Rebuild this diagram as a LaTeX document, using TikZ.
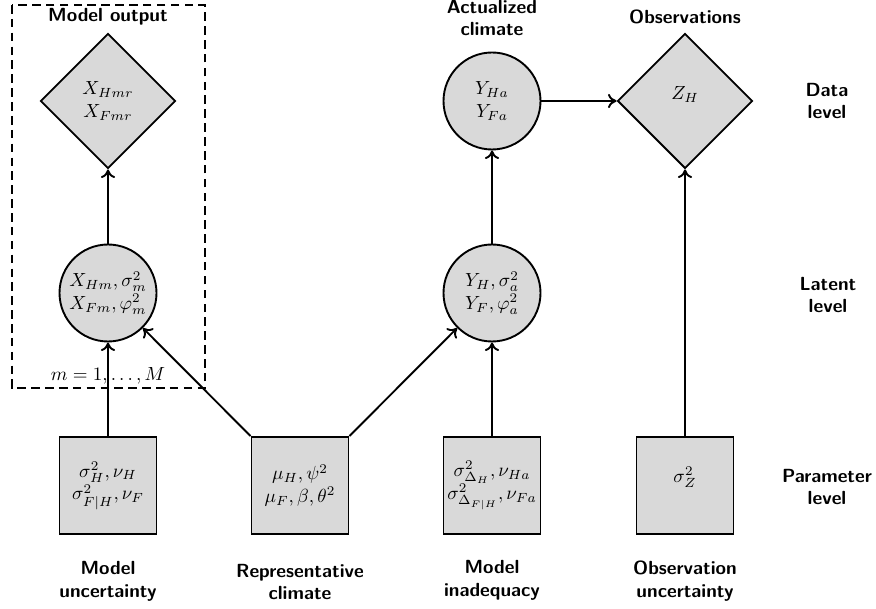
\documentclass[tikz,border=0pt]{standalone}
\usepackage{amsmath}
\usetikzlibrary{shapes.geometric,arrows.meta}
\def\pu{0.5263pt}
\tikzset{
  base/.style={draw=black, line width=1pt, fill=black!15, inner sep=0pt, align=center},
  circnode/.style={base, circle, minimum size={97*\pu}},
  sqnode/.style={base, rectangle, minimum size={97*\pu}},
  dianode/.style={base, diamond, minimum width={135*\pu}, minimum height={135*\pu}},
  lbl/.style={font=\sffamily\bfseries, align=center, inner sep=0pt},
  conn/.style={line width=1pt, -{To[length=4.5pt,width=7.5pt]}},
  plate/.style={line width=0.8pt, dash pattern=on 4.5pt off 2.8pt}
}
\begin{document}
\begin{tikzpicture}[x=\pu, y=-\pu]
\useasboundingbox (0,0) rectangle (876,609);
% plate
\draw[plate] (12,5) rectangle (205,388);
\node[lbl] (tmo) at (108,17) {Model output};
\node (mlab) at (108,376) {$m=1,\ldots,M$};
% data level
\node[dianode] (d1) at (108,101) {$X_{Hmr}$\\$X_{Fmr}$};
\node[circnode] (c3) at (492,101) {$Y_{Ha}$\\$Y_{Fa}$};
\node[dianode] (d2) at (685,101) {\raisebox{3.6pt}[\height][\depth]{$Z_H$}};
% latent level
\node[circnode] (c1) at (108,293) {$X_{Hm},\sigma^2_m$\\$X_{Fm},\varphi^2_m$};
\node[circnode] (c2) at (492,293) {$Y_H,\sigma^2_a$\\$Y_F,\varphi^2_a$};
% parameter level
\node[sqnode] (s1) at (108,485.5) {$\sigma^2_H,\nu_H$\\$\sigma^2_{F|H},\nu_F$};
\node[sqnode] (s2) at (300,485.5) {$\mu_H,\psi^2$\\$\mu_F,\beta,\theta^2$};
\node[sqnode] (s3) at (492,485.5) {$\sigma^2_{\Delta_H},\nu_{Ha}$\\$\sigma^2_{\Delta_{F|H}},\nu_{Fa}$};
\node[sqnode] (s4) at (685,485.5) {\raisebox{4.2pt}[\height][\depth]{$\sigma^2_Z$}};
% top labels
\node[lbl] (tac) at (492,18) {Actualized\\climate};
\node[lbl] (tob) at (685,17) {Observations};
% right labels
\node[lbl] (rd) at (827,101) {Data\\level};
\node[lbl] (rl) at (828,295) {Latent\\level};
\node[lbl] (rp) at (827,487) {Parameter\\level};
% bottom labels
\node[lbl] (b1) at (108,581) {Model\\uncertainty};
\node[lbl] (b2) at (300,582) {Representative\\climate};
\node[lbl] (b3) at (492,580) {Model\\inadequacy};
\node[lbl] (b4) at (685,581) {Observation\\uncertainty};
% connectors
\draw[conn] (s1.north) -- (c1.south);
\draw[conn] (s2.north west) -- (c1);
\draw[conn] (s2.north east) -- (c2);
\draw[conn] (s3.north) -- (c2.south);
\draw[conn] (c2.north) -- (c3.south);
\draw[conn] (c1.north) -- (d1.south);
\draw[conn] (c3.east) -- (d2.west);
\draw[conn] (s4.north) -- (d2.south);
\end{tikzpicture}
\end{document}
